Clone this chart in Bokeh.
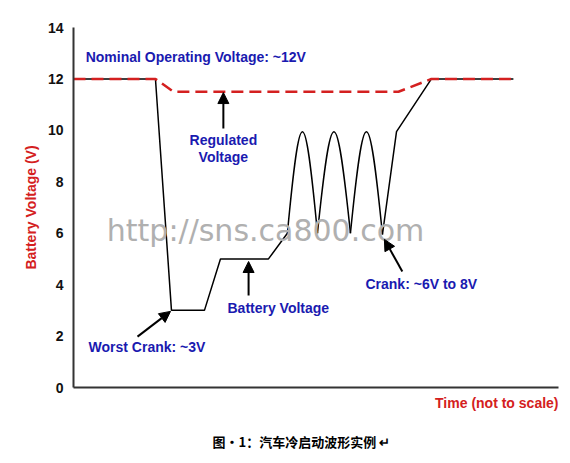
import math
from bokeh.plotting import figure
from bokeh.models import Range1d, FixedTicker, Label, Arrow, NormalHead, Title
from bokeh.embed import file_html
from bokeh.resources import INLINE

# ---- data (time in arbitrary units 0..100, voltage in V) ----
battery_t = [0, 16.9, 20.2, 27.0, 30.3, 40.2, 44.1]
battery_v = [12, 12, 3, 3, 5, 5, 6.0]

arch_start_t = [44.1, 50.3, 57.1]
arch_end_t = [50.3, 57.1, 63.7]
arch_start_v = [6.0, 6.0, 6.0]
arch_end_v = [6.0, 6.0, 5.95]
arch_peak_v = [9.95, 9.95, 9.95]

recovery_t = [63.7, 66.6, 73.8, 90.7]
recovery_v = [5.95, 9.95, 12, 12]

regulated_t = [0, 16.9, 20.6, 67.0, 73.8, 90.7]
regulated_v = [12, 12, 11.5, 11.5, 12, 12]

y_ticks = [0, 2, 4, 6, 8, 10, 12, 14]

BLUE = "#1a1ab0"
RED = "#d42020"
FONT = "Liberation Sans"
H = 463

p = figure(width=562, height=H, output_backend="svg", toolbar_location=None,
           x_range=Range1d(0, 100), y_range=Range1d(0, 14),
           min_border_left=73, min_border_right=4, min_border_top=27,
           min_border_bottom=76)
p.outline_line_color = None
p.grid.visible = False
p.background_fill_color = "white"
p.border_fill_color = "white"

# axes
ya = p.yaxis[0]
ya.ticker = FixedTicker(ticks=y_ticks)
ya.major_tick_line_color = None
ya.minor_tick_line_color = None
ya.major_tick_out = 0
ya.minor_tick_out = 0
ya.axis_line_color = "#333333"
ya.axis_line_width = 2
ya.major_label_text_font = FONT
ya.major_label_text_font_style = "bold"
ya.major_label_text_font_size = "14px"
ya.major_label_text_color = "#111111"
ya.major_label_standoff = 10
ya.axis_label = "Battery Voltage (V)"
ya.axis_label_text_font = FONT
ya.axis_label_text_font_style = "bold"
ya.axis_label_text_font_size = "14px"
ya.axis_label_text_color = RED
ya.axis_label_standoff = 6

xa = p.xaxis[0]
xa.ticker = FixedTicker(ticks=[])
xa.major_tick_line_color = None
xa.minor_tick_line_color = None
xa.major_tick_out = 0
xa.minor_tick_out = 0
xa.major_label_standoff = 0
xa.major_label_text_font_size = "0px"
xa.axis_line_color = "#333333"
xa.axis_line_width = 2

p.add_layout(Title(text="Time (not to scale)", align="right", text_font=FONT,
                   text_font_style="bold", text_font_size="14px", text_color=RED,
                   standoff=11), "below")
p.add_layout(Title(text="图·1：汽车冷启动波形实例 ↵", align="left", offset=139,
                   text_font="Noto Sans CJK SC", text_font_style="bold",
                   text_font_size="13px", text_color="black", standoff=26), "below")

# watermark
p.add_layout(Label(x=39.6, y=6.1, text="http://sns.ca800.com", text_font="DejaVu Sans",
                   text_font_size="30px", text_color="#b0b0b0", text_align="center",
                   text_baseline="alphabetic"))

# battery voltage (black)
p.line(battery_t, battery_v, line_color="black", line_width=1.5)
w = [e - s for s, e in zip(arch_start_t, arch_end_t)]
cx0 = [s + 0.424 * wi for s, wi in zip(arch_start_t, w)]
cx1 = [e - 0.424 * wi for e, wi in zip(arch_end_t, w)]
cy0 = [sv + (pk - sv) * 4 / 3 for sv, pk in zip(arch_start_v, arch_peak_v)]
cy1 = [ev + (pk - ev) * 4 / 3 for ev, pk in zip(arch_end_v, arch_peak_v)]
p.bezier(x0=arch_start_t, y0=arch_start_v, x1=arch_end_t, y1=arch_end_v,
         cx0=cx0, cy0=cy0, cx1=cx1, cy1=cy1, line_color="black", line_width=1.5)
p.line(recovery_t, recovery_v, line_color="black", line_width=1.5)

# regulated voltage (red dashed)
p.line(regulated_t, regulated_v, line_color=RED, line_width=2.5, line_dash="12 6")

def blue_label(x, y, txt, align="left"):
    p.add_layout(Label(x=x, y=y, text=txt, text_font=FONT, text_font_style="bold",
                       text_font_size="14px", text_color=BLUE, text_align=align,
                       text_baseline="middle"))

def arrow(x0, y0, x1, y1):
    p.add_layout(Arrow(end=NormalHead(size=11, fill_color="black", line_color="black"),
                       x_start=x0, y_start=y0, x_end=x1, y_end=y1,
                       line_color="black", line_width=2))

blue_label(2.5, 12.84, "Nominal Operating Voltage: ~12V")
blue_label(30.9, 9.61, "Regulated", "center")
blue_label(30.9, 8.95, "Voltage", "center")
arrow(30.9, 10.07, 30.9, 11.47)
blue_label(31.75, 3.11, "Battery Voltage")
arrow(36.1, 3.58, 36.1, 4.90)
blue_label(3.1, 1.56, "Worst Crank: ~3V")
arrow(13.2, 1.98, 20.0, 2.96)
blue_label(60.2, 4.01, "Crank: ~6V to 8V")
arrow(67.8, 4.51, 64.1, 5.76)

open("out.html", "w").write(file_html(p, INLINE))
